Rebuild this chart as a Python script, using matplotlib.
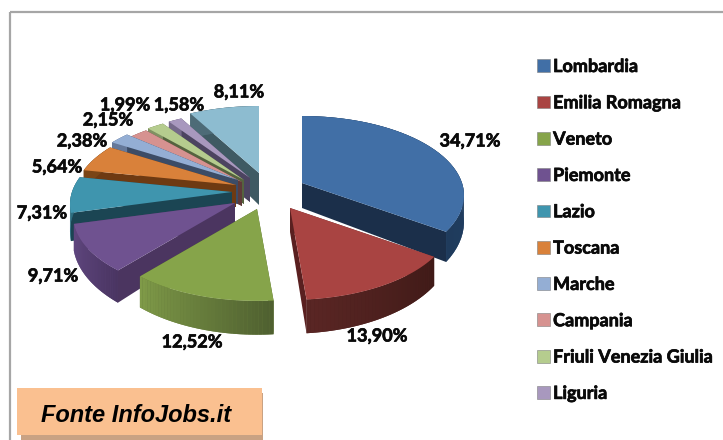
import numpy as np
import matplotlib
matplotlib.use("Agg")
import matplotlib.pyplot as plt
import matplotlib.patheffects as pe
from matplotlib.collections import PolyCollection
from matplotlib.colors import to_rgb
from matplotlib.patches import Polygon, Rectangle, Patch

# ---- data ----
regions = ["Lombardia", "Emilia Romagna", "Veneto", "Piemonte", "Lazio", "Toscana",
           "Marche", "Campania", "Friuli Venezia Giulia", "Liguria", "Altre"]
shares = [34.71, 13.90, 12.52, 9.71, 7.31, 5.64, 2.38, 2.15, 1.99, 1.58, 8.11]
share_labels = ["34,71%", "13,90%", "12,52%", "9,71%", "7,31%", "5,64%",
                "2,38%", "2,15%", "1,99%", "1,58%", "8,11%"]
legend_count = 10
source_text = "Fonte InfoJobs.it"

# ---- style ----
top_colors = ["#416fa6", "#a94442", "#86a44a", "#6f5290", "#3f95ae", "#d9813a",
              "#94aed4", "#d69290", "#b5cc8e", "#a898be", "#8dbcd0"]
rim_start = ["#24456b", "#3f1a17", "#4f6030", "#4a3562", "#2d6e80", "#7a4516",
             "#66799a", "#98605e", "#7f9162", "#75698a", "#4d6b77"]
rim_end = ["#1f3b5c", "#5a2624", "#7f9a48", "#644a85", "#2d6e80", "#7a4516",
           "#66799a", "#98605e", "#7f9162", "#75698a", "#4d6b77"]
cut_colors = ["#1b2f4a", "#5a2020", "#4f6428", "#4b3560", "#1b4553", "#6e3a12",
              "#3c4c66", "#5f3a39", "#55633f", "#4c4460", "#3f5a63"]
apex_x = [302, 290, 257, 235, 232, 236, 238, 242, 244, 250, 259]
apex_y = [183, 208, 209, 203, 192, 185, 180, 182, 180, 178, 173]
depths = [25, 24, 24, 25, 26, 22, 24, 24, 24, 24, 32]
paint_order = [10, 9, 8, 7, 6, 5, 4, 3, 0, 1, 2]
label_x = [470, 377, 192, 53, 42, 57, 82, 108, 125, 179, 239]
label_y = [141, 336, 342, 276, 213, 167, 141, 120, 105, 105, 92]
R, RB, K = 160.0, 77.5, 0.157

W, H = 723, 440
fig = plt.figure(figsize=(W / 100, H / 100), dpi=100)
ax = fig.add_axes([0, 0, 1, 1])
ax.set_xlim(0, W)
ax.set_ylim(H, 0)
ax.axis("off")


def project(theta, ax0, ay0, extra=0.0):
    u, v = np.cos(theta), np.sin(theta)
    s = 1 / (1 + K * v)
    return ax0 + R * u * s, ay0 - RB * v * s + extra * s * s


fractions = np.array(shares) / sum(shares)
ends = 90 - 360 * np.cumsum(fractions)
starts = ends + 360 * fractions

for i in paint_order:
    z = 1 + paint_order.index(i)
    t = np.radians(np.linspace(starts[i], ends[i], 41))
    x0, y0, d = apex_x[i], apex_y[i], depths[i]
    xt, yt = project(t, x0, y0)
    xb, yb = project(t, x0, y0, d)
    for j in (0, -1):
        quad = [(x0, y0), (xt[j], yt[j]), (xb[j], yb[j]), (x0, y0 + d)]
        ax.add_patch(Polygon(quad, fc=cut_colors[i], ec="none", zorder=z - 0.2))
    c0, c1 = np.array(to_rgb(rim_start[i])), np.array(to_rgb(rim_end[i]))
    ax.add_patch(Polygon(np.c_[np.r_[xt, xb[::-1]], np.r_[yt, yb[::-1]]],
                         fc=tuple((c0 + c1) / 2), ec="none", zorder=z - 0.1))
    quads = [[(xt[k], yt[k]), (xt[k + 1], yt[k + 1]), (xb[k + 1], yb[k + 1]), (xb[k], yb[k])]
             for k in range(len(t) - 1)]
    shade = [tuple(c0 + (c1 - c0) * k / (len(t) - 2)) for k in range(len(t) - 1)]
    ax.add_collection(PolyCollection(quads, facecolors=shade, edgecolors="none",
                                     linewidths=0, zorder=z))
    ax.add_patch(Polygon(np.c_[np.r_[x0, xt], np.r_[y0, yt]], fc=top_colors[i], ec="none",
                         zorder=z + 0.2))

heavy = [pe.withStroke(linewidth=0.5, foreground="#0a0a0a")]
label_font = ["Lato", "DejaVu Sans"]
for lab, lx, ly in zip(share_labels, label_x, label_y):
    ax.text(lx, ly, lab, ha="center", va="center", fontsize=13, fontweight="bold",
            family=label_font, color="#0a0a0a", zorder=30, path_effects=heavy)

# frame
ax.plot([10, 10], [H, 12], color="#a6a6a6", lw=1.6, zorder=0, solid_capstyle="butt")
ax.plot([10, W], [12, 12], color="#a6a6a6", lw=1.6, zorder=0, solid_capstyle="butt")

# legend
handles = [Patch(fc=top_colors[i], ec="#7f7f7f", lw=0.4, label=regions[i])
           for i in range(legend_count)]
leg = ax.legend(handles=handles, loc="upper left", bbox_to_anchor=(537 / W, 1 - 58 / H),
                frameon=False, labelspacing=1.07, handlelength=0.72,
                handleheight=0.72, handletextpad=0.17, borderpad=0, borderaxespad=0,
                prop={"family": "Lato", "weight": "bold", "size": 13})
for txt in leg.get_texts():
    txt.set_color("#0a0a0a")
    txt.set_path_effects(heavy)

# source box
ax.add_patch(Rectangle((21, 393), 242, 47, fc="#c9a283", ec="none", zorder=31))
ax.add_patch(Rectangle((17, 388), 245, 47, fc="#fac090", ec="none", zorder=32))
ax.text(41, 416, source_text, ha="left", va="center", fontsize=17, fontweight="bold",
        fontstyle="italic", family="Liberation Sans", color="#000000", zorder=33)

fig.savefig("out.png", dpi=100, facecolor="white")
